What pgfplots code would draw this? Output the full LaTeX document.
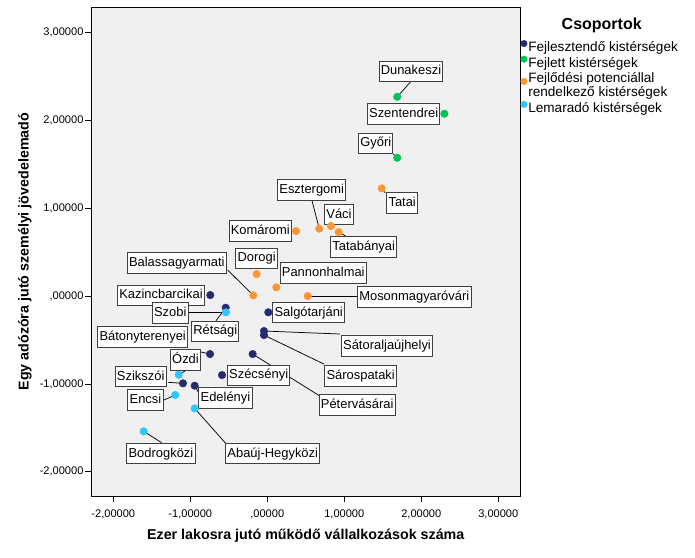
\documentclass[border=0pt]{standalone}
\usepackage{fontspec}
\setmainfont{Liberation Sans}
\usepackage{pgfplots}
\pgfplotsset{compat=1.18}
\definecolor{cNavy}{RGB}{40,42,112}
\definecolor{cGreen}{RGB}{0,196,90}
\definecolor{cOrange}{RGB}{255,150,50}
\definecolor{cCyan}{RGB}{45,200,250}
\definecolor{bgc}{RGB}{240,240,240}
\tikzset{lab/.style={draw=black!75, line width=0.75pt, fill=white,
  font=\fontsize{9.7}{11}\selectfont, inner xsep=1.3pt, inner ysep=3.1pt,
  text height=7.2pt, text depth=2pt, anchor=center},
  lead/.style={black, line width=0.55pt}}
\begin{document}
\begin{tikzpicture}[x=0.75pt,y=0.75pt]
\useasboundingbox (0,0) rectangle (695,557);
\begin{axis}[
  at={(68.625pt,45.75pt)}, anchor=south west,
  scale only axis, width=321.375pt, height=366.5pt,
  xmin=-2.283, xmax=3.282, ymin=-2.275, ymax=3.285,
  axis background/.style={fill=bgc},
  axis line style={black, line width=0.75pt},
  tick align=outside, xtick pos=bottom, ytick pos=left,
  major tick length=4.5pt,
  tick style={black, line width=0.6pt},
  xtick={-2,-1,0,1,2,3},
  ytick={-2,-1,0,1,2,3},
  xticklabels={{-2,00000},{-1,00000},{,00000},{1,00000},{2,00000},{3,00000}},
  yticklabels={{-2,00000},{-1,00000},{,00000},{1,00000},{2,00000},{3,00000}},
  ticklabel style={font=\fontsize{8.3}{10}\selectfont},
  yticklabel style={xshift=2pt},
  xticklabel style={yshift=-2pt},
  xlabel={Ezer lakosra jutó működő vállalkozások száma},
  ylabel={Egy adózóra jutó személyi jövedelemadó},
  xlabel style={at={(axis description cs:0.5,-0.0818)}, anchor=center, font=\bfseries\fontsize{10.7}{12}\selectfont},
  ylabel style={at={(axis description cs:-0.1552,0.5)}, anchor=center, font=\bfseries\fontsize{10.7}{12}\selectfont},
  legend style={at={(1.0012,0.933)}, anchor=north west, draw=none, fill=none,
    inner sep=0pt, outer sep=0pt, font=\fontsize{10.2}{11}\selectfont,
    row sep=1pt, column sep=0pt, cells={anchor=west, align=left},
    nodes={inner sep=0.6pt}},
  legend image code/.code={\fill[#1] (0pt,0.3em) circle (2.4pt);},
]
% leader lines
\draw[lead] (axis cs:1.862,2.438) -- (axis cs:1.688,2.267);
\draw[lead] (axis cs:1.636,1.615) -- (axis cs:1.688,1.573);
\draw[lead] (axis cs:0.581,1.084) -- (axis cs:0.675,0.766);
\draw[lead] (axis cs:1.529,1.175) -- (axis cs:1.486,1.225);
\draw[lead] (axis cs:1.031,0.675) -- (axis cs:0.927,0.728);
\draw[lead] (axis cs:-0.514,0.296) -- (axis cs:-0.182,0.008);
\draw[lead] (axis cs:1.182,0.0) -- (axis cs:0.525,0.0);
\draw[lead] (axis cs:0.944,-0.432) -- (axis cs:-0.043,-0.398);
\draw[lead] (axis cs:0.736,-0.774) -- (axis cs:-0.043,-0.444);
\draw[lead] (axis cs:0.684,-1.138) -- (axis cs:-0.190,-0.660);
\draw[lead] (axis cs:-1.021,-0.185) -- (axis cs:-0.579,-0.185);
\draw[lead] (axis cs:-0.666,-0.281) -- (axis cs:-0.571,-0.171);
\draw[lead] (axis cs:-1.026,-0.603) -- (axis cs:-0.744,-0.660);
\draw[lead] (axis cs:-1.069,-0.853) -- (axis cs:-1.151,-0.895);
\draw[lead] (axis cs:-1.286,-0.982) -- (axis cs:-1.095,-0.993);
\draw[lead] (axis cs:-0.887,-1.107) -- (axis cs:-0.943,-1.020);
\draw[lead] (axis cs:-1.342,-1.183) -- (axis cs:-1.195,-1.126);
\draw[lead] (axis cs:-0.540,-1.676) -- (axis cs:-0.943,-1.278);
\draw[lead] (axis cs:-1.371,-1.669) -- (axis cs:-1.605,-1.539);
% data
\addplot[only marks, mark=*, mark size=2.8pt, color=cNavy] coordinates {
 (-0.740,0.011) (-0.540,-0.133) (0.013,-0.185) (-0.043,-0.398) (-0.043,-0.444)
 (-0.744,-0.660) (-0.190,-0.660) (-0.588,-0.899) (-1.095,-0.993) (-0.943,-1.020)};
\addlegendentry{Fejlesztendő kistérségek}
\addplot[only marks, mark=*, mark size=2.8pt, color=cGreen] coordinates {
 (1.688,2.267) (2.300,2.074) (1.688,1.573)};
\addlegendentry{Fejlett kistérségek}
\addplot[only marks, mark=*, mark size=2.8pt, color=cOrange] coordinates {
 (1.486,1.225) (0.675,0.766) (0.827,0.796) (0.927,0.728) (0.373,0.739)
 (-0.138,0.250) (0.117,0.099) (-0.182,0.008) (0.525,0.0)};
\addlegendentry{Fejlődési potenciállal\\rendelkező kistérségek}
\addplot[only marks, mark=*, mark size=2.8pt, color=cCyan] coordinates {
 (-0.536,-0.185) (-1.151,-0.895) (-1.195,-1.126) (-0.943,-1.278) (-1.605,-1.539)};
\addlegendentry{Lemaradó kistérségek}
% labels
\node[lab] at (axis cs:1.866,2.556) {Dunakeszi};
\node[lab] at (axis cs:1.771,2.071) {Szentendrei};
\node[lab] at (axis cs:1.409,1.737) {Győri};
\node[lab] at (axis cs:0.577,1.206) {Esztergomi};
\node[lab] at (axis cs:1.752,1.058) {Tatai};
\node[lab] at (axis cs:0.931,0.927) {Váci};
\node[lab] at (axis cs:-0.091,0.739) {Komáromi};
\node[lab] at (axis cs:1.252,0.557) {Tatabányai};
\node[lab] at (axis cs:-0.138,0.427) {Dorogi};
\node[lab] at (axis cs:-1.175,0.375) {Balassagyarmati};
\node[lab] at (axis cs:0.727,0.262) {Pannonhalmai};
\node[lab] at (axis cs:1.909,-0.011) {Mosonmagyaróvári};
\node[lab] at (axis cs:-1.381,0.008) {Kazincbarcikai};
\node[lab] at (axis cs:0.538,-0.188) {Salgótarjáni};
\node[lab] at (axis cs:1.555,-0.571) {Sátoraljaújhelyi};
\node[lab] at (axis cs:1.213,-0.910) {Sárospataki};
\node[lab] at (axis cs:1.168,-1.242) {Pétervásárai};
\node[lab] at (axis cs:-0.112,-0.904) {Szécsényi};
\node[lab] at (axis cs:-1.260,-0.190) {Szobi};
\node[lab] at (axis cs:-0.675,-0.402) {Rétsági};
\node[lab] at (axis cs:-1.618,-0.466) {Bátonyterenyei};
\node[lab] at (axis cs:-1.062,-0.728) {Ózdi};
\node[lab] at (axis cs:-1.644,-0.916) {Szikszói};
\node[lab] at (axis cs:-0.543,-1.158) {Edelényi};
\node[lab] at (axis cs:-1.582,-1.183) {Encsi};
\node[lab] at (axis cs:0.071,-1.794) {Abaúj-Hegyközi};
\node[lab] at (axis cs:-1.381,-1.794) {Bodrogközi};
\end{axis}
\node[font=\bfseries\fontsize{12}{14}\selectfont] at (601.7,531.5) {Csoportok};
\end{tikzpicture}
\end{document}
